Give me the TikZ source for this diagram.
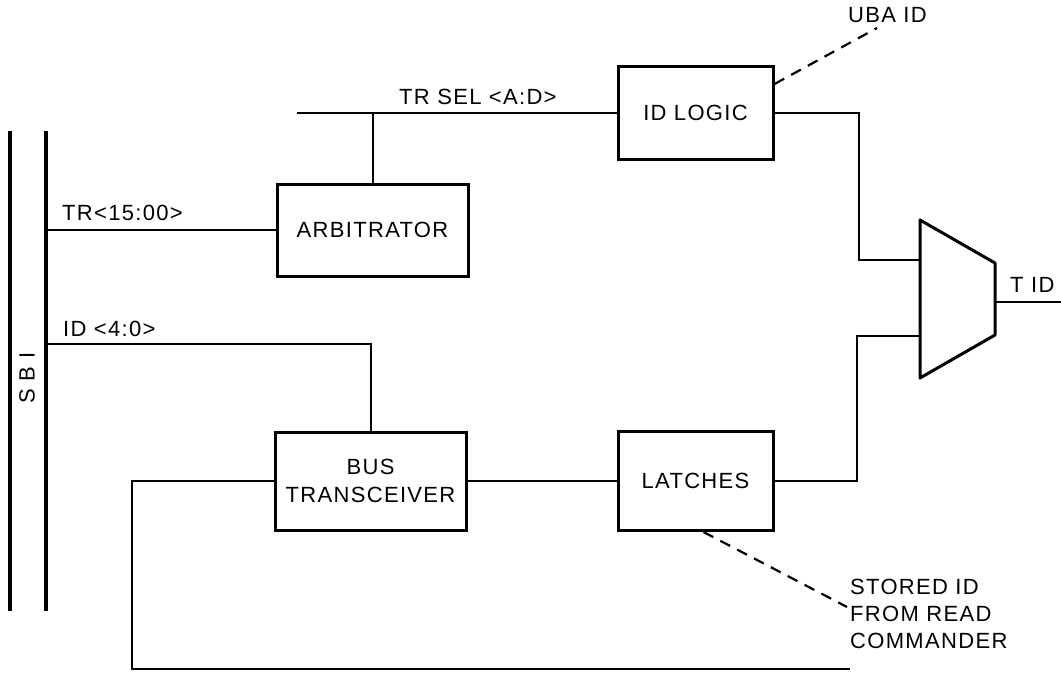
\documentclass[tikz,border=0pt]{standalone}
\usepackage{fontspec}
\setmainfont{Liberation Sans}[LetterSpace=6]
\usetikzlibrary{positioning, calc}
\tikzstyle{block} = [rectangle, draw=black, line width=3pt, inner sep=0pt, align=center, font=\fontsize{22}{28}\selectfont]
\tikzstyle{wire} = [line width=2pt]
\tikzstyle{sbiline} = [line width=3.6pt]
\tikzstyle{note} = [line width=2.2pt, dash pattern=on 11pt off 8pt]
\tikzstyle{sig} = [inner sep=0pt, anchor=west, font=\fontsize{22}{27}\selectfont]
\tikzstyle{muxshape} = [draw=black, line width=3pt, line join=round]

\begin{document}
\begin{tikzpicture}[x=1pt, y=-1pt]
    \useasboundingbox (0,0) rectangle (1061,673);

    % Bus SBI
    \coordinate (sbiAtop) at (10,131);
    \coordinate (sbiAbot) at (10,611);
    \coordinate (sbiBtop) at (46,131);
    \coordinate (sbiBbot) at (46,611);
    \draw [sbiline] (sbiAtop) -- (sbiAbot);
    \draw [sbiline] (sbiBtop) -- (sbiBbot);
    \node (sbi) [sig, anchor=center, rotate=90] at (27,378) {S\hspace{8pt}B\hspace{8pt}I};

    % Bloques
    \node (arb) [block, minimum width=191pt, minimum height=92pt] at (372.5,230) {ARBITRATOR};
    \node (idl) [block, minimum width=155pt, minimum height=93pt] at (695.5,113) {ID LOGIC};
    \node (bus) [block, minimum width=191pt, minimum height=98pt] at (370.5,481) {BUS\\TRANSCEIVER};
    \node (lat) [block, minimum width=155pt, minimum height=99pt, right=149pt of bus] {LATCHES};

    % Multiplexor
    \coordinate (muxin1) at (920,260);
    \coordinate (muxin2) at (920,336);
    \coordinate (muxout) at (995,302);
    \draw [muxshape] (920,220) -- (995,263) -- (995,335) -- (920,378) -- cycle;

    % Senales
    \node (trlab) [sig] at (62,213) {TR<15:00>};
    \node (idlab) [sig] at (63,329) {ID <4:0>};
    \node (sellab) [sig] at (399,97) {TR SEL <A:D>};
    \node (uba) [sig] at (848,15) {UBA ID};
    \node (tid) [sig] at (1010,285) {T ID};
    \node (stored) [sig, anchor=north west, align=left] at (850,579) {STORED ID\\FROM READ\\COMMANDER};

    % Lineas
    \coordinate (selend) at (297,113);
    \coordinate (tidend) at (1061,302);
    \coordinate (fbend) at (850,669);
    \draw [wire] (sbiBtop |- arb.west) -- (arb.west);
    \draw [wire] (sbiBtop |- 0,344) -| (bus.north);
    \draw [wire] (selend) -- (idl.west);
    \draw [wire] (arb.north) -- (arb.north |- idl.west);
    \draw [wire] (idl.east) -- (859,113) |- (muxin1);
    \draw [wire] (lat.east) -- (857,481) |- (muxin2);
    \draw [wire] (bus.east) -- (lat.west);
    \draw [wire] (bus.west) -- (132,481) |- (fbend);
    \draw [wire] (muxout) -- (tidend);

    % Lineas discontinuas
    \draw [note] ($(idl.north east)+(0,19)$) -- (877,28);
    \draw [note] ($(lat.south)+(8,0)$) -- (847,607);
\end{tikzpicture}
\end{document}
